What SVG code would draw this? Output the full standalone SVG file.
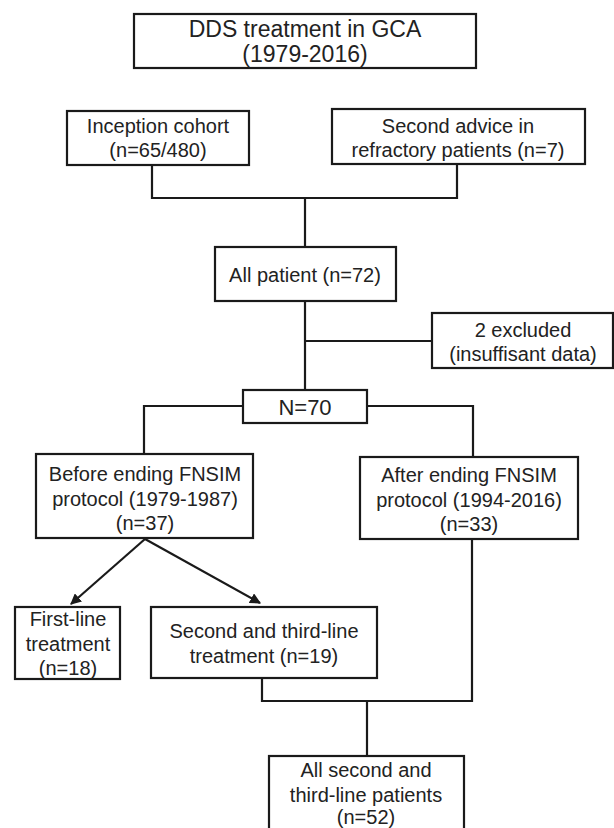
<svg xmlns="http://www.w3.org/2000/svg" width="614" height="828" viewBox="0 0 614 828">
<style>
.box{fill:#fff;stroke:#1a1a1a;stroke-width:2.2}
.t{font-family:"Liberation Sans",Arial,sans-serif;font-size:20px;fill:#222;text-anchor:middle}
.big{font-size:22px}
.ttl{font-size:23px}
.ln{fill:none;stroke:#1a1a1a;stroke-width:2.2}
</style>
<defs>
<marker id="ah" viewBox="0 0 10 10" refX="9" refY="5" markerWidth="5" markerHeight="5" orient="auto" markerUnits="strokeWidth">
<path d="M0,0 L10,5 L0,10 z" fill="#1a1a1a"/>
</marker>
</defs>
<rect width="614" height="828" fill="#fff"/>
<g id="connectors">
<path class="ln" d="M152,165 V198 H457 V164"/>
<path class="ln" d="M305,198 V247"/>
<path class="ln" d="M305,301 V390"/>
<path class="ln" d="M305,341 H432"/>
<path class="ln" d="M243,406 H144 V454"/>
<path class="ln" d="M367,406 H473 V457"/>
<path class="ln" d="M145,539 L71,604" marker-end="url(#ah)"/>
<path class="ln" d="M145,539 L260,603" marker-end="url(#ah)"/>
<path class="ln" d="M262,678 V701 H472 V539"/>
<path class="ln" d="M367,701 V756"/>
</g>
<g id="title">
<rect class="box" x="134" y="14" width="342" height="54"/>
<text class="t ttl" x="305" y="37">DDS treatment in GCA</text>
<text class="t ttl" x="305" y="62">(1979-2016)</text>
</g>
<g id="inception">
<rect class="box" x="67" y="111" width="182" height="54"/>
<text class="t" x="158" y="133">Inception cohort</text>
<text class="t" x="158" y="157">(n=65/480)</text>
</g>
<g id="second-advice">
<rect class="box" x="332" y="109" width="253" height="55"/>
<text class="t" x="458" y="133">Second advice in</text>
<text class="t" x="458" y="157">refractory patients (n=7)</text>
</g>
<g id="all-patient">
<rect class="box" x="215" y="247" width="181" height="54"/>
<text class="t" x="305" y="282">All patient (n=72)</text>
</g>
<g id="excluded">
<rect class="box" x="432" y="313" width="181" height="55"/>
<text class="t" x="523" y="337">2 excluded</text>
<text class="t" x="523" y="361">(insuffisant data)</text>
</g>
<g id="n70">
<rect class="box" x="243" y="390" width="124" height="33"/>
<text class="t big" x="305" y="415">N=70</text>
</g>
<g id="before">
<rect class="box" x="36" y="454" width="217" height="84"/>
<text class="t" x="145" y="481">Before ending FNSIM</text>
<text class="t" x="145" y="506">protocol (1979-1987)</text>
<text class="t" x="145" y="530">(n=37)</text>
</g>
<g id="after">
<rect class="box" x="360" y="457" width="218" height="82"/>
<text class="t" x="469" y="482">After ending FNSIM</text>
<text class="t" x="469" y="507">protocol (1994-2016)</text>
<text class="t" x="469" y="531">(n=33)</text>
</g>
<g id="first-line">
<rect class="box" x="15" y="607" width="105" height="72"/>
<text class="t" x="68" y="626">First-line</text>
<text class="t" x="68" y="651">treatment</text>
<text class="t" x="68" y="675">(n=18)</text>
</g>
<g id="second-third">
<rect class="box" x="151" y="607" width="226" height="71"/>
<text class="t" x="264" y="638">Second and third-line</text>
<text class="t" x="264" y="663">treatment (n=19)</text>
</g>
<g id="all-second">
<rect class="box" x="269" y="756" width="195" height="80"/>
<text class="t" x="366" y="777">All second and</text>
<text class="t" x="366" y="802">third-line patients</text>
<text class="t" x="366" y="824">(n=52)</text>
</g>
</svg>
